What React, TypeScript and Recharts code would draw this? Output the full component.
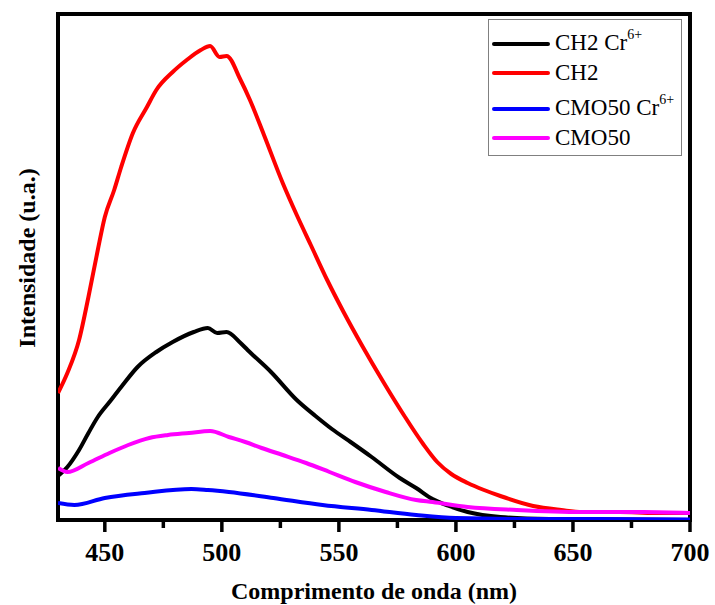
import React from 'react';
import { LineChart, Line, XAxis, YAxis, ReferenceArea, Legend } from 'recharts';

// Espectros de emissão (leitura aproximada do gráfico, unidades arbitrárias)
const ch2CrWl = [430, 434, 439, 443, 447, 452, 457, 464, 472, 479, 488, 494, 498, 502, 508, 511, 521, 532, 540, 547, 555, 564, 576, 583, 590, 597, 605, 619, 640, 670, 700];
const ch2CrVal = [44, 53, 70, 87, 103, 118, 133, 153, 168, 178, 188, 192, 187, 188, 177, 170, 148, 120, 104, 91, 78, 63, 42, 32, 21, 14, 8, 3, 1, 0.5, 0];

const ch2Wl = [430, 434, 439, 443, 447, 450, 454, 457, 462, 468, 472, 479, 485, 491, 495, 499, 502, 508, 512, 518, 526, 532, 538, 545, 552, 560, 569, 578, 586, 592, 598, 605, 612, 619, 633, 645, 654, 670, 685, 700];
const ch2Val = [127, 147, 180, 223, 270, 303, 330, 353, 387, 413, 430, 448, 460, 470, 474, 463, 464, 440, 420, 385, 337, 305, 275, 240, 208, 174, 138, 104, 76, 58, 46, 37, 30, 24, 14, 10, 8, 8, 7, 7];

const cmoCrWl = [430, 437, 450, 467, 487, 494, 503, 522, 543, 564, 583, 600, 630, 660, 700];
const cmoCrVal = [17, 15, 22, 27, 31, 30, 28, 22, 15, 10, 5, 2, 1, 1, 0.5];

const cmoWl = [430, 434, 443, 452, 460, 469, 477, 486, 495, 503, 510, 517, 526, 536, 546, 557, 570, 583, 590, 605, 626, 654, 680, 700];
const cmoVal = [52, 48, 57, 67, 75, 82, 85, 87, 89, 83, 78, 72, 65, 57, 48, 38, 28, 20, 18, 13, 10, 8, 8, 7];

const xTicks = [450, 475, 500, 525, 550, 575, 600, 625, 650, 675, 700];

const series = [
  { name: 'CH2 Cr', sup: '6+', color: '#000000', wl: ch2CrWl, val: ch2CrVal },
  { name: 'CH2', sup: '', color: '#ff0000', wl: ch2Wl, val: ch2Val },
  { name: 'CMO50 Cr', sup: '6+', color: '#0000ff', wl: cmoCrWl, val: cmoCrVal },
  { name: 'CMO50', sup: '', color: '#ff00ff', wl: cmoWl, val: cmoVal },
];

const FONT = '"Liberation Serif", "Times New Roman", serif';

const renderTick = (props: any) => {
  const { x, y, payload } = props;
  const major = payload.value % 50 === 0;
  return (
    <g>
      <line x1={x} x2={x} y1={y} y2={y + (major ? 12 : 8)} stroke="#000" strokeWidth={3.5} />
      {major && (
        <text x={x} y={y + 41} textAnchor="middle" fontFamily={FONT} fontWeight="bold" fontSize={26} fill="#000">
          {payload.value}
        </text>
      )}
    </g>
  );
};

// legenda desenhada a partir da lista de séries (a do Recharts ordena por nome)
const renderLegend = () => (
  <div
    style={{
      width: 194,
      height: 137,
      boxSizing: 'border-box',
      border: '1px solid #808080',
      background: '#fff',
      paddingTop: 9,
      fontFamily: FONT,
      fontSize: 23,
      color: '#000',
    }}
  >
    {series.map((s, i) => (
      <div
        key={s.name}
        style={{ display: 'flex', alignItems: 'center', height: 29, marginTop: i === 2 ? 7 : 0, whiteSpace: 'nowrap' }}
      >
        <div style={{ width: 58, height: 4, background: s.color, marginLeft: 3, marginRight: 5, borderRadius: 2 }} />
        <span style={{ lineHeight: '29px' }}>
          {s.name}
          {s.sup && <span style={{ fontSize: 14, position: 'relative', top: -11 }}>{s.sup}</span>}
        </span>
      </div>
    ))}
  </div>
);

export default function App() {
  return (
    <div style={{ position: 'absolute', left: 0, top: 0, width: 715, height: 605, background: '#fff' }}>
      <LineChart width={715} height={605} margin={{ top: 14, right: 25, left: 0, bottom: 0 }}>
        <XAxis
          type="number"
          dataKey="w"
          domain={[430, 700]}
          allowDataOverflow
          ticks={xTicks}
          interval={0}
          axisLine={false}
          tickLine={false}
          tickSize={0}
          tickMargin={0}
          tick={renderTick}
          height={85}
          label={(p: any) => {
            const vb = p.viewBox;
            return (
              <text x={vb.x + vb.width / 2} y={vb.y + 79} textAnchor="middle" fontFamily={FONT} fontWeight="bold" fontSize={24} fill="#000">
                Comprimento de onda (nm)
              </text>
            );
          }}
        />
        <YAxis
          type="number"
          domain={[0, 506]}
          allowDataOverflow
          width={58}
          axisLine={false}
          tickLine={false}
          tick={false}
          label={(p: any) => {
            const vb = p.viewBox;
            const cx = vb.x + 35;
            const cy = vb.y + vb.height / 2 - 9;
            return (
              <text x={cx} y={cy} transform={`rotate(-90 ${cx} ${cy})`} textAnchor="middle" fontFamily={FONT} fontWeight="bold" fontSize={24} fill="#000">
                Intensidade (u.a.)
              </text>
            );
          }}
        />
        {series.map((s) => (
          <Line
            key={s.name + s.sup}
            name={s.name + s.sup}
            data={s.wl.map((w, i) => ({ w, v: s.val[i] }))}
            dataKey="v"
            type="monotone"
            stroke={s.color}
            strokeWidth={4}
            dot={false}
            isAnimationActive={false}
          />
        ))}
        <ReferenceArea x1={430} x2={700} y1={0} y2={506} fill="none" stroke="#000" strokeWidth={4} ifOverflow="visible" />
        <Legend
          layout="vertical"
          align="center"
          verticalAlign="middle"
          content={renderLegend}
          wrapperStyle={{ left: 488, top: 19, width: 194, height: 137 }}
        />
      </LineChart>
    </div>
  );
}
